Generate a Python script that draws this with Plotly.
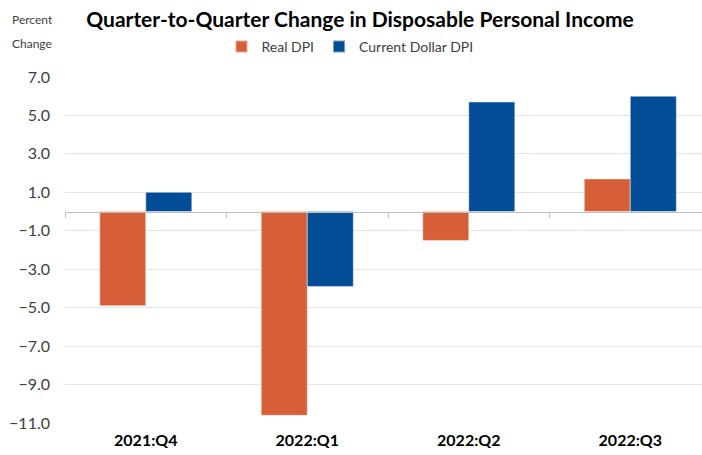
import plotly.graph_objects as go

categories = ["2021:Q4", "2022:Q1", "2022:Q2", "2022:Q3"]
real_dpi = [-4.9, -10.6, -1.5, 1.7]
current_dpi = [1.0, -3.9, 5.7, 6.0]
y_ticks = [7.0, 5.0, 3.0, 1.0, -1.0, -3.0, -5.0, -7.0, -9.0, -11.0]

ORANGE = "#D65F37"
BLUE = "#034D97"
FONT = "Lato, 'Open Sans', sans-serif"

W, H = 702, 455
ML, MR, MT, MB = 65, 0, 77, 32
PW, PH = W - ML - MR, H - MT - MB


def px_x(px):
    return (px - ML) / PW


def px_y(py):
    return (H - MB - py) / PH


xs = list(range(len(categories)))

fig = go.Figure()
fig.add_trace(go.Bar(x=xs, y=real_dpi, name="Real DPI", marker=dict(color=ORANGE, line=dict(color="rgba(255,255,255,0.45)", width=1))))
fig.add_trace(go.Bar(x=xs, y=current_dpi, name="Current Dollar DPI", marker=dict(color=BLUE, line=dict(color="rgba(255,255,255,0.45)", width=1))))

# invisible trace on overlay axis to show the zero axis with category-boundary ticks
fig.add_trace(go.Scatter(x=[None], y=[None], xaxis="x2", showlegend=False, hoverinfo="skip"))

fig.update_layout(
    width=W, height=H,
    margin=dict(l=ML, r=MR, t=MT, b=MB, autoexpand=False),
    paper_bgcolor="white", plot_bgcolor="white",
    barmode="group", bargap=0.43, bargroupgap=0,
    font=dict(family=FONT, color="#404040"),
    title=dict(text="<b>Quarter-to-Quarter Change in Disposable Personal Income</b>",
               x=360/W, xref="container", xanchor="center",
               y=1-20/H, yref="container", yanchor="middle",
               font=dict(size=21, color="#000000", family=FONT)),
    legend=dict(orientation="h", xref="container", yref="container",
                x=350/W, xanchor="center", y=1-47/H, yanchor="middle",
                font=dict(size=14, color="#404040"), traceorder="normal",
                itemwidth=30, entrywidth=0, itemsizing="constant"),
    xaxis=dict(range=[-0.5, 3.444], tickvals=xs, ticktext=categories,
               showgrid=False, zeroline=False, showline=False, ticks="",
               automargin=False,
               tickfont=dict(size=16, color="#000000", family=FONT, weight="bold"),
               ticklabelstandoff=6),
    xaxis2=dict(overlaying="x", matches="x", anchor="free", position=11/18,
                showline=True, linecolor="#BFBFBF", linewidth=1,
                ticks="outside", ticklen=5, tickcolor="#BFBFBF",
                tickvals=[-0.5, 0.5, 1.5, 2.5, 3.5], showticklabels=False,
                showgrid=False, zeroline=False, automargin=False),
    yaxis=dict(range=[-11, 7], tickvals=y_ticks, tickformat=".1f",
               showgrid=True, gridcolor="#E4E4E4", gridwidth=1,
               zeroline=False, showline=False, ticks="", automargin=False,
               tickfont=dict(size=16, color="#404040", family=FONT),
               ticklabelstandoff=14),
    annotations=[
        dict(text="Percent", xref="paper", yref="paper",
             x=px_x(10), y=px_y(20), xanchor="left", yanchor="middle",
             showarrow=False, font=dict(size=12, color="#404040", family=FONT)),
        dict(text="Change", xref="paper", yref="paper",
             x=px_x(10), y=px_y(43), xanchor="left", yanchor="middle",
             showarrow=False, font=dict(size=12, color="#404040", family=FONT)),
    ],
)

fig.write_html("out.html", config={"displayModeBar": False},
               post_script="document.body.style.margin='0';")
